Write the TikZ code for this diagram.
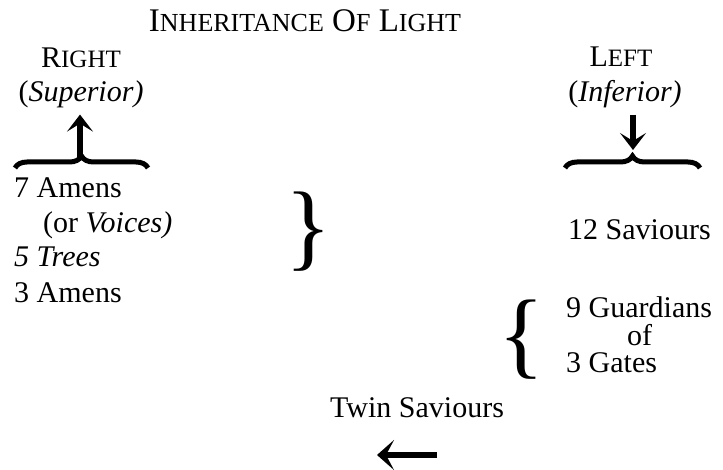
\documentclass[tikz,border=0pt]{standalone}
\usepackage{fontspec}
\setmainfont{Liberation Serif}
\usetikzlibrary{positioning}
\usetikzlibrary{arrows.meta}
\usetikzlibrary{decorations.pathreplacing}

\newcommand{\smc}[3][24]{#2{\fontsize{#1}{#1}\selectfont #3}}

\begin{document}
\begin{tikzpicture}[x=1pt, y=-1pt,
    txt/.style={inner sep=0pt, font=\fontsize{30}{36}\selectfont},
    hbrace/.style={decorate, decoration={brace, amplitude=12pt, aspect=0.5}, line width=5pt},
    bigbrace/.style={inner sep=0pt, font=\fontsize{96}{96}\selectfont},
    pointer/.style={line width=6pt, -{Stealth[length=17pt,width=26pt,inset=8pt]}},
    wide pointer/.style={line width=6pt, -{Stealth[length=17pt,width=30pt,inset=8pt]}}]
    \useasboundingbox (0,0) rectangle (723,470);

    \node[txt, font=\fontsize{33}{38}\selectfont, anchor=base] (title) at (305,32) {\smc[26]{I}{NHERITANCE} \smc[26]{O}{F} \smc[26]{L}{IGHT}};

    % the two sides
    \node[txt, anchor=base] (right) at (81,68) {\smc[25]{R}{IGHT}};
    \node[txt, anchor=base] (superior) at (81,102) {(\textit{Superior)}};
    \node[txt, anchor=base] (left) at (621,67) {\smc[25]{L}{EFT}};
    \node[txt, anchor=base] (inferior) at (625,102) {(\textit{Inferior)}};

    \coordinate (r1) at (15,168);
    \coordinate (r2) at (148,168);
    \coordinate (rtip) at (80,157);
    \coordinate (l1) at (565,168);
    \coordinate (l2) at (700,168);
    \coordinate (ltip) at (633,150);

    \draw[hbrace] (r1) -- (r2);
    \draw[hbrace] (l1) -- (l2);
    \draw[pointer, shorten >=6pt] (rtip) -- (rtip |- superior.south);
    \draw[pointer, shorten <=6pt] (ltip |- inferior.south) -- (ltip);

    % right hand column
    \node[txt, anchor=base west] (amens7) at (14,198) {7 Amens};
    \node[txt, anchor=base west] (voices) at (43,233) {(or \textit{Voices)}};
    \node[txt, anchor=base west] (trees) at (14,267) {\textit{5 Trees}};
    \node[txt, anchor=base west] (amens3) at (14,303) {3 Amens};
    \node[bigbrace] (grpA) at (309,232) {\}};

    % left hand column
    \node[txt, anchor=base west] (saviours) at (568,240) {12 Saviours};
    \node[bigbrace] (grpB) at (522,340) {\{};
    \node[txt, anchor=base west] (guard) at (566,318) {9 Guardians};
    \node[txt, anchor=base west] (of) at (627,345) {of};
    \node[txt, anchor=base west] (gates) at (566,372) {3 Gates};

    % bottom
    \node[txt, anchor=base west] (twin) at (330,417) {Twin Saviours};
    \coordinate (t1) at (437,455);
    \coordinate (t2) at (377,455);
    \draw[wide pointer] (t1) -- (t2);
\end{tikzpicture}
\end{document}
